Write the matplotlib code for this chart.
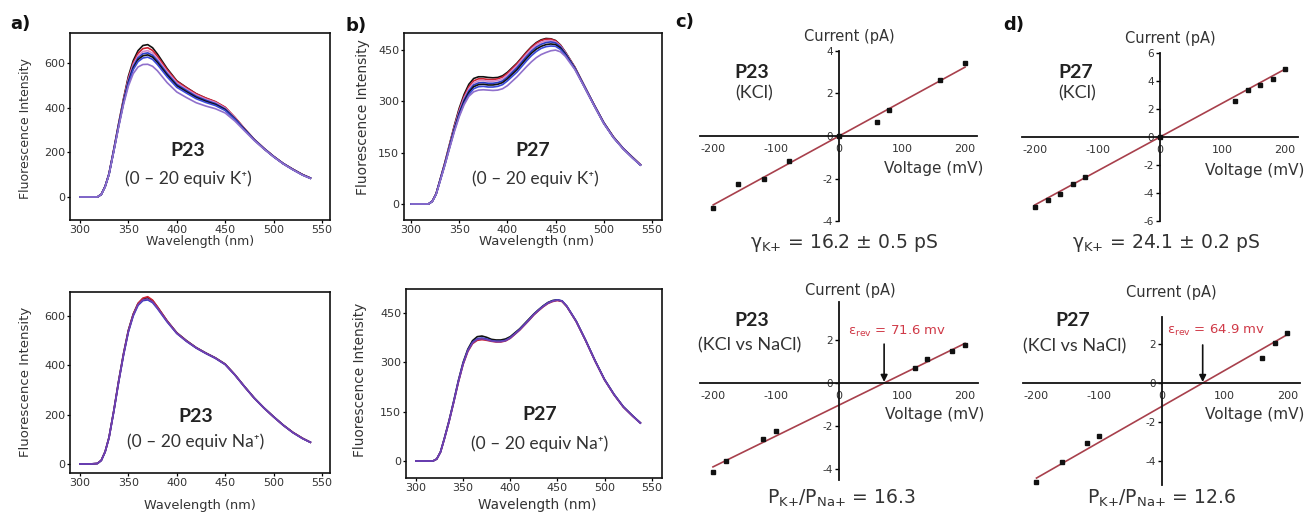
import matplotlib
matplotlib.use('Agg')
import matplotlib.pyplot as plt
import numpy as np

# ---------------- data ----------------
wl_a = [300, 310, 318, 322, 326, 330, 335, 340, 345, 350, 355, 360, 365, 370, 375, 380,
        390, 400, 410, 420, 430, 440, 450, 460, 470, 480, 490, 500, 510, 520, 530, 538]

a_k1 = [0, 0, 0, 12, 48, 105, 215, 330, 440, 540, 610, 655, 678, 682, 668, 640, 575, 520, 490, 462, 442, 425, 400, 355, 305, 258, 218, 182, 150, 124, 100, 85]
a_k2 = [0, 0, 0, 12, 48, 104, 213, 327, 435, 532, 600, 643, 664, 668, 656, 630, 570, 518, 489, 462, 443, 427, 402, 357, 306, 258, 218, 182, 150, 124, 100, 85]
a_k3 = [0, 0, 0, 12, 47, 103, 211, 324, 430, 525, 592, 632, 651, 655, 644, 619, 561, 511, 483, 457, 438, 423, 398, 354, 304, 257, 217, 181, 150, 123, 99, 85]
a_k4 = [0, 0, 0, 11, 47, 102, 210, 322, 427, 518, 584, 623, 641, 645, 634, 610, 553, 504, 477, 451, 433, 418, 394, 351, 303, 256, 217, 181, 149, 123, 99, 84]
a_k5 = [0, 0, 0, 11, 46, 101, 208, 320, 423, 512, 577, 615, 632, 636, 626, 602, 546, 498, 471, 446, 428, 414, 391, 349, 302, 256, 216, 181, 149, 123, 99, 84]
a_k6 = [0, 0, 0, 11, 46, 101, 207, 318, 420, 507, 570, 606, 622, 626, 616, 593, 538, 491, 465, 440, 423, 409, 387, 347, 300, 255, 216, 180, 149, 122, 98, 84]
a_k7 = [0, 0, 0, 11, 45, 100, 205, 314, 414, 496, 552, 582, 593, 594, 585, 565, 512, 470, 445, 422, 407, 395, 376, 340, 296, 253, 215, 180, 148, 122, 98, 83]

a_n1 = [0, 0, 2, 15, 50, 108, 218, 338, 448, 542, 607, 650, 670, 674, 662, 636, 580, 532, 500, 472, 450, 430, 405, 362, 314, 268, 228, 192, 158, 128, 104, 88]
a_n2 = [0, 0, 2, 15, 50, 107, 216, 336, 445, 540, 606, 651, 672, 678, 664, 637, 580, 531, 499, 471, 449, 429, 404, 362, 313, 267, 227, 191, 157, 128, 104, 88]
a_n3 = [0, 0, 2, 14, 49, 106, 214, 333, 441, 535, 600, 643, 662, 665, 654, 630, 576, 529, 497, 470, 448, 428, 403, 361, 313, 267, 227, 191, 157, 127, 103, 88]
a_n4 = [0, 0, 2, 14, 49, 106, 215, 334, 443, 537, 603, 646, 665, 668, 657, 632, 578, 530, 498, 471, 449, 429, 404, 361, 313, 267, 227, 191, 157, 127, 103, 88]

wl_b = [300, 310, 318, 322, 326, 330, 335, 340, 345, 350, 355, 360, 365, 370, 375, 380, 385, 390, 395,
        400, 410, 420, 425, 430, 435, 440, 445, 450, 455, 460, 470, 480, 490, 500, 510, 520, 530, 538]

b_k1 = [0, 0, 0, 8, 30, 70, 120, 175, 230, 280, 320, 350, 367, 372, 372, 370, 369, 370, 375, 385, 412, 445, 460, 472, 480, 484, 483, 478, 465, 445, 400, 345, 290, 238, 196, 163, 136, 115]
b_k2 = [0, 0, 0, 8, 30, 69, 119, 173, 227, 275, 314, 343, 360, 366, 366, 364, 364, 366, 371, 382, 410, 443, 458, 470, 478, 482, 482, 477, 464, 444, 399, 344, 290, 238, 196, 163, 136, 115]
b_k3 = [0, 0, 0, 8, 29, 68, 117, 171, 224, 271, 309, 337, 354, 360, 361, 359, 359, 361, 366, 377, 405, 438, 453, 465, 473, 477, 478, 474, 462, 443, 398, 344, 289, 237, 195, 163, 135, 115]
b_k4 = [0, 0, 0, 8, 29, 68, 116, 169, 221, 267, 304, 331, 348, 354, 355, 353, 353, 355, 360, 371, 399, 432, 447, 459, 467, 472, 474, 471, 460, 441, 397, 343, 289, 237, 195, 162, 135, 114]
b_k5 = [0, 0, 0, 7, 29, 67, 115, 167, 218, 263, 299, 326, 343, 349, 350, 348, 348, 350, 355, 366, 393, 426, 441, 453, 461, 466, 468, 466, 456, 439, 396, 342, 288, 236, 195, 162, 135, 114]
b_k6 = [0, 0, 0, 7, 28, 66, 114, 165, 215, 259, 294, 320, 337, 343, 344, 342, 342, 344, 349, 360, 386, 419, 434, 446, 455, 460, 462, 461, 452, 436, 395, 342, 288, 236, 194, 162, 134, 114]
b_k7 = [0, 0, 0, 7, 28, 65, 112, 163, 212, 255, 290, 315, 328, 333, 334, 333, 332, 333, 337, 346, 372, 402, 416, 428, 437, 443, 448, 450, 445, 432, 393, 341, 287, 235, 194, 161, 134, 114]

b_n1 = [0, 0, 0, 6, 28, 68, 122, 182, 245, 300, 340, 366, 378, 380, 376, 370, 368, 368, 371, 378, 402, 432, 447, 460, 472, 482, 488, 490, 486, 470, 425, 367, 305, 248, 203, 165, 137, 116]
b_n2 = [0, 0, 0, 6, 27, 66, 119, 178, 240, 294, 333, 357, 367, 369, 367, 364, 362, 362, 365, 373, 398, 428, 444, 457, 469, 479, 485, 488, 485, 470, 424, 366, 304, 247, 202, 164, 136, 116]
b_n3 = [0, 0, 0, 6, 27, 67, 120, 180, 243, 297, 337, 361, 372, 374, 371, 366, 364, 364, 367, 375, 400, 430, 446, 459, 471, 481, 487, 490, 487, 471, 425, 367, 305, 248, 203, 165, 137, 116]
b_n4 = [0, 0, 0, 6, 27, 66, 119, 179, 241, 295, 335, 359, 370, 372, 369, 365, 363, 363, 366, 374, 399, 429, 445, 458, 470, 480, 486, 489, 486, 470, 424, 366, 304, 247, 202, 164, 136, 115]

# I-V data (voltage mV, current pA)
c1_v = [-200, -160, -120, -80, 0, 60, 80, 160, 200]
c1_i = [-3.40, -2.27, -2.02, -1.18, 0.0, 0.67, 1.22, 2.64, 3.42]
c1_g = 16.2          # pS
d1_v = [-200, -180, -160, -140, -120, 0, 120, 140, 160, 180, 200]
d1_i = [-4.95, -4.47, -4.07, -3.36, -2.82, 0.0, 2.58, 3.34, 3.69, 4.12, 4.83]
d1_g = 24.1
c2_v = [-200, -180, -120, -100, 120, 140, 180, 200]
c2_i = [-4.14, -3.60, -2.59, -2.22, 0.68, 1.11, 1.50, 1.77]
c2_g = 14.3
c2_erev = 71.6
d2_v = [-200, -160, -120, -100, 160, 180, 200]
d2_i = [-5.06, -4.03, -3.06, -2.72, 1.26, 2.07, 2.55]
d2_g = 18.4
d2_erev = 64.9

# ---------------- figure ----------------
W, H = 1309, 513
plt.rcParams['font.family'] = ['DejaVu Sans']
plt.rcParams['mathtext.fontset'] = 'dejavusans'
plt.rcParams['axes.unicode_minus'] = False
fig = plt.figure(figsize=(W / 100, H / 100), dpi=100)

TXT = '#333333'


def box(x0, y0, x1, y1):
    return [x0 / W, 1 - y1 / H, (x1 - x0) / W, (y1 - y0) / H]


def ft(x, y, s, **kw):
    kw.setdefault('ha', 'center')
    kw.setdefault('va', 'center')
    kw.setdefault('color', TXT)
    return fig.text(x / W, 1 - y / H, s, **kw)


def spectra_axes(rect, xlim, ylim, yticks, curves, wl, colors, fs):
    ax = fig.add_axes(rect)
    for c, col in zip(curves, colors):
        ax.plot(wl, c, color=col, lw=1.2, solid_joinstyle='round')
    ax.set_xlim(*xlim)
    ax.set_ylim(*ylim)
    ax.set_xticks([300, 350, 400, 450, 500, 550])
    ax.set_yticks(yticks)
    for s in ax.spines.values():
        s.set_linewidth(1.2)
        s.set_color('#111111')
    ax.tick_params(direction='out', length=2.5, width=0.9, labelsize=fs,
                   labelcolor=TXT, pad=1)
    return ax


k_cols = ['#111111', '#cc2233', '#d48ccc', '#2a3cc8', '#111111', '#3a4ad8', '#9070cc']
n_cols = ['#111111', '#cc2233', '#2a3cc8', '#7040b0']

spectra_axes(box(70, 33, 330, 220), (289.7, 558.3), (-103, 734), [0, 200, 400, 600],
             [a_k1, a_k2, a_k3, a_k4, a_k5, a_k6, a_k7], wl_a, k_cols, 8)
spectra_axes(box(70, 292, 330, 473), (289.7, 558.3), (-36.5, 697), [0, 200, 400, 600],
             [a_n1, a_n2, a_n3, a_n4], wl_a, n_cols, 8)
spectra_axes(box(404, 33, 662, 220), (292.7, 560.4), (-46.8, 500), [0, 150, 300, 450],
             [b_k1, b_k2, b_k3, b_k4, b_k5, b_k6, b_k7], wl_b, k_cols, 8)
spectra_axes(box(406, 289, 662, 478), (289.4, 561), (-51.7, 523), [0, 150, 300, 450],
             [b_n1, b_n2, b_n3, b_n4], wl_b, n_cols, 8)

# axis labels of spectra
ft(26, 129, 'Fluorescence Intensity', rotation=90, fontsize=9)
ft(26, 382, 'Fluorescence Intensity', rotation=90, fontsize=9.5)
ft(363, 117, 'Fluorescence Intensity', rotation=90, fontsize=10)
ft(360, 380, 'Fluorescence Intensity', rotation=90, fontsize=9.8)
ft(200, 242, 'Wavelength (nm)', fontsize=9)
ft(200, 505, 'Wavelength (nm)', fontsize=9.3)
ft(537, 242, 'Wavelength (nm)', fontsize=9.5)
ft(537, 505, 'Wavelength (nm)', fontsize=9.8)

lab_font = ['Lato', 'DejaVu Sans']
ft(188, 150, 'P23', fontsize=14, fontweight='bold', family=lab_font, color='#222222')
ft(188, 179, '(0 \u2013 20 equiv K\u207a)', fontsize=12.5, family=lab_font)
ft(196, 416, 'P23', fontsize=14, fontweight='bold', family=lab_font, color='#222222')
ft(196, 442, '(0 \u2013 20 equiv Na\u207a)', fontsize=12.5, family=lab_font)
ft(533, 150, 'P27', fontsize=14, fontweight='bold', family=lab_font, color='#222222')
ft(535, 179, '(0 \u2013 20 equiv K\u207a)', fontsize=12.5, family=lab_font)
ft(540, 415, 'P27', fontsize=14, fontweight='bold', family=lab_font, color='#222222')
ft(540, 444, '(0 \u2013 20 equiv Na\u207a)', fontsize=12.5, family=lab_font)


# ---------------- I-V panels ----------------
LINE = '#a8404c'


def iv_axes(rect, xlim, ylim, yticks, v, i, g, erev=None, bounds=None):
    ax = fig.add_axes(rect)
    ax.patch.set_alpha(0)
    for s in ('top', 'right'):
        ax.spines[s].set_visible(False)
    ax.spines['left'].set_position('zero')
    ax.spines['bottom'].set_position('zero')
    for s in ('left', 'bottom'):
        ax.spines[s].set_linewidth(1.3)
        ax.spines[s].set_color('#111111')
    if bounds is not None:
        ax.spines['left'].set_bounds(*bounds)
    ax.set_xlim(*xlim)
    ax.set_ylim(*ylim)
    ax.set_xticks([-200, -100, 0, 100, 200])
    ax.set_yticks(yticks)
    ax.tick_params(axis='x', length=0, pad=6, labelsize=8, labelcolor=TXT)
    ax.tick_params(axis='y', direction='out', length=3, width=1, pad=1.5,
                   labelsize=7.5, labelcolor=TXT)
    e0 = 0.0 if erev is None else erev
    vx = np.array([min(v), max(v)], dtype=float)
    ax.plot(vx, g * 1e-3 * (vx - e0), color=LINE, lw=1.2, zorder=2)
    ax.plot(v, i, ls='none', marker='s', ms=3.2, color='#111111', zorder=3)
    return ax


ax_c1 = iv_axes(box(700, 44.6, 977, 227.4), (-221, 219), (-4.3, 4.3), [-4, -2, 0, 2, 4],
                c1_v, c1_i, c1_g, bounds=(-4, 4))
ax_d1 = iv_axes(box(1022, 48.3, 1298, 225.7), (-220.8, 220.8), (-6.3, 6.3),
                [-6, -4, -2, 0, 2, 4, 6], d1_v, d1_i, d1_g, bounds=(-6, 6))
ax_c2 = iv_axes(box(700, 302, 978, 480.2), (-220.6, 220.6), (-4.5, 3.75), [-4, -2, 0, 2],
                c2_v, c2_i, c2_g, erev=c2_erev)
ax_d2 = iv_axes(box(1023, 316.7, 1300, 485.4), (-221.5, 220), (-5.25, 3.4), [-4, -2, 0, 2],
                d2_v, d2_i, d2_g, erev=d2_erev)

RED = '#d03a48'
for ax, erev, ytop, ytxt in ((ax_c2, c2_erev, 1.8, 2.37), (ax_d2, d2_erev, 1.95, 2.72)):
    ax.annotate('', xy=(erev, 0.05), xytext=(erev, ytop),
                arrowprops=dict(arrowstyle='-|>', color='#111111', lw=1.2,
                                mutation_scale=10, shrinkA=0, shrinkB=0))
    ax.text(erev + 21, ytxt, '\u03b5$_{\\mathrm{rev}}$ = %.1f mv' % erev, color=RED,
            fontsize=9.5, ha='center', va='center')

# I-V texts
for x, y in ((849, 37), (1170, 39), (850, 291), (1171, 292)):
    ft(x, y, 'Current (pA)', fontsize=10.5)
for x, y in ((934, 169), (1255, 170), (935, 414), (1255, 415)):
    ft(x, y, 'Voltage (mV)', fontsize=11)

ft(752, 72, 'P23', fontsize=14, fontweight='bold', family=lab_font, color='#222222')
ft(754, 93, '(KCl)', fontsize=13, family=lab_font)
ft(1076, 72, 'P27', fontsize=14, fontweight='bold', family=lab_font, color='#222222')
ft(1077, 93, '(KCl)', fontsize=13, family=lab_font)
ft(752, 320, 'P23', fontsize=14, fontweight='bold', family=lab_font, color='#222222')
ft(750, 345, '(KCl vs NaCl)', fontsize=13, family=lab_font)
ft(1073, 321, 'P27', fontsize=14, fontweight='bold', family=lab_font, color='#222222')
ft(1075, 346, '(KCl vs NaCl)', fontsize=13, family=lab_font)

ft(844, 243, '\u03b3$_{\\mathrm{K{+}}}$ = %.1f \u00b1 0.5 pS' % c1_g, fontsize=13.5)
ft(1166, 243, '\u03b3$_{\\mathrm{K{+}}}$ = %.1f \u00b1 0.2 pS' % d1_g, fontsize=13.5)
ft(841, 498, 'P$_{\\mathrm{K{+}}}$/P$_{\\mathrm{Na{+}}}$ = 16.3', fontsize=13.5)
ft(1162, 498, 'P$_{\\mathrm{K{+}}}$/P$_{\\mathrm{Na{+}}}$ = 12.6', fontsize=13.5)

# panel letters
for x, y, s in ((20, 24, 'a)'), (356, 26, 'b)'), (685, 22, 'c)'), (1014, 25, 'd)')):
    ft(x, y, s, fontsize=13, fontweight='bold', color='#111111')

fig.savefig('out.png', dpi=100)
